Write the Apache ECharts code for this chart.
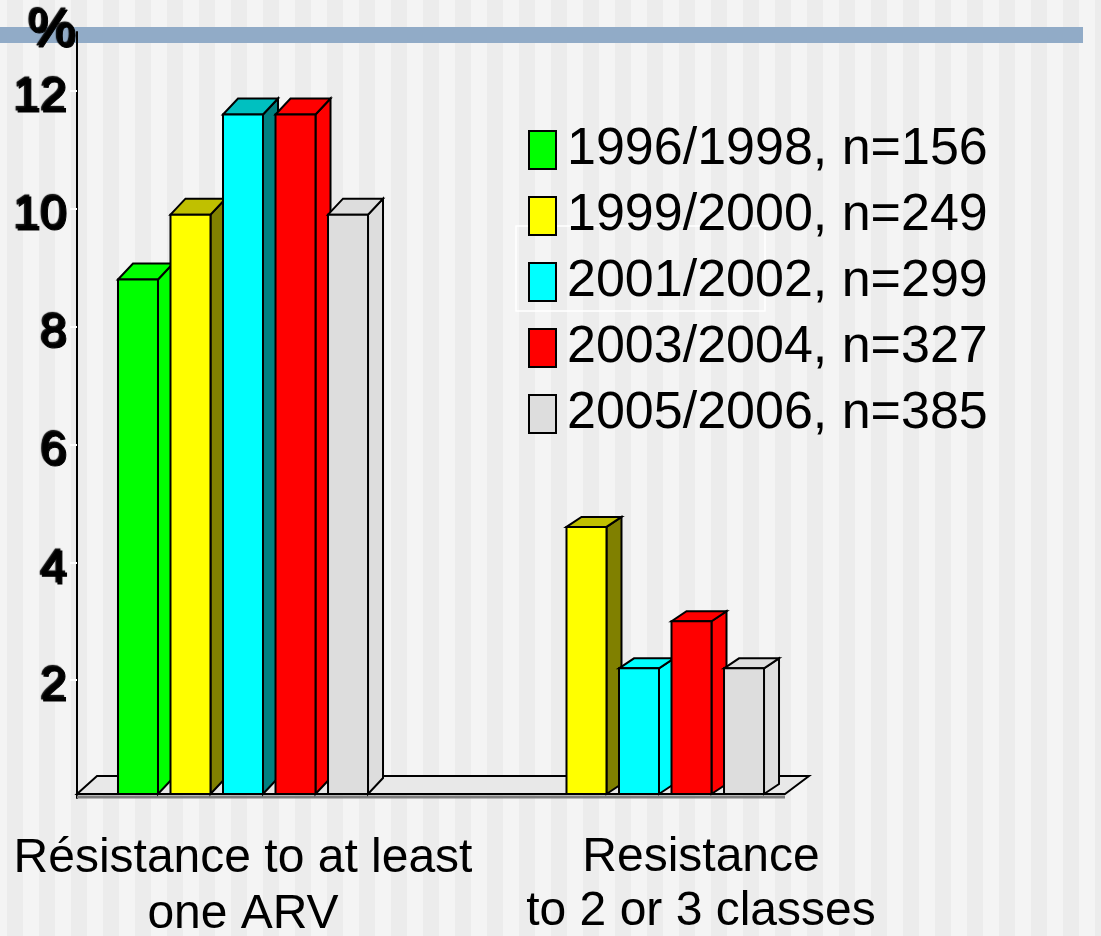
<!DOCTYPE html>
<html>
<head>
<meta charset="utf-8">
<title>ARV resistance by period</title>
<script src="https://cdn.jsdelivr.net/npm/echarts@6/dist/echarts.min.js"></script>
<style>
  html, body { margin: 0; padding: 0; }
  body {
    width: 1101px; height: 936px; overflow: hidden;
    background: repeating-linear-gradient(90deg, #f4f4f4 0 7px, #ececec 7px 23px, #f4f4f4 23px 32px);
  }
  #chart { width: 1101px; height: 936px; }
</style>
</head>
<body>
<div id="chart"></div>
<script>
// Categories on the horizontal axis
const CATEGORIES = ['Résistance to at least\none ARV', 'Resistance\nto 2 or 3 classes'];

// Legend entries, one per study period
const PERIODS = ['1996/1998, n=156', '1999/2000, n=249', '2001/2002, n=299', '2003/2004, n=327', '2005/2006, n=385'];

// Percentages per period, in category order (null = no bar)
const P_1996_1998 = [8.8, null];
const P_1999_2000 = [9.9, 4.6];
const P_2001_2002 = [11.6, 2.2];
const P_2003_2004 = [11.6, 3.0];
const P_2005_2006 = [9.9, 2.2];

// Value axis range
const Y_MIN = 0;
const Y_MAX = 13;
const Y_STEP = 2;

const SERIES_VALUES = [P_1996_1998, P_1999_2000, P_2001_2002, P_2003_2004, P_2005_2006];

// Face colours of each 3D box: front, then top and side per category
const FACES = [
  { front: '#00ff00', top: ['#00ff00', '#00ff00'], side: ['#00ff00', '#00ff00'] },
  { front: '#ffff00', top: ['#c0c000', '#c0c000'], side: ['#808000', '#808000'] },
  { front: '#00ffff', top: ['#00c0c0', '#00ffff'], side: ['#008080', '#00ffff'] },
  { front: '#ff0000', top: ['#ff0000', '#ff0000'], side: ['#ff0000', '#ff0000'] },
  { front: '#dddddd', top: ['#dddddd', '#dddddd'], side: ['#dddddd', '#dddddd'] }
];

const FONT = '"Liberation Sans", Arial, sans-serif';
const BAR_W = 0.101;      // bar width as a fraction of the category band
const STEP = 0.1326;      // distance between neighbouring bars, fraction of band
const DEPTH_X = 15;       // oblique depth of the boxes, px
const DEPTH_Y = [16, 10]; // vertical depth per category, px
const FLOOR_LIFT = 4;     // bars stand on the floor slab

// Doubled, slightly embossed look of the value-axis text
const GHOST = {
  textBorderColor: '#000',
  textBorderWidth: 1,
  textShadowColor: '#000',
  textShadowBlur: 1,
  textShadowOffsetX: -2,
  textShadowOffsetY: -2
};

function boxRenderer(k) {
  return function (params, api) {
    const v = api.value(1);
    if (v == null || isNaN(v)) return null;
    const c = api.value(0);
    const band = api.size([1, 0])[0];
    const base = api.coord([c, 0]);
    const center = base[0] + (k - 2) * band * STEP;
    const w = band * BAR_W;
    const x0 = center - w / 2;
    const x1 = center + w / 2;
    const yT = api.coord([c, v])[1];
    const yB = base[1] - FLOOR_LIFT;
    const dx = DEPTH_X;
    const dy = DEPTH_Y[c];
    const f = FACES[k];
    const stroke = { stroke: '#000', lineWidth: 2, lineJoin: 'miter' };
    return {
      type: 'group',
      children: [
        {
          type: 'polygon',
          shape: { points: [[x1, yT], [x1 + dx, yT - dy], [x1 + dx, yB - dy], [x1, yB]] },
          style: Object.assign({ fill: f.side[c] }, stroke)
        },
        {
          type: 'polygon',
          shape: { points: [[x0, yT], [x0 + dx, yT - dy], [x1 + dx, yT - dy], [x1, yT]] },
          style: Object.assign({ fill: f.top[c] }, stroke)
        },
        {
          type: 'rect',
          shape: { x: x0, y: yT, width: w, height: yB - yT },
          style: Object.assign({ fill: f.front }, stroke)
        }
      ]
    };
  };
}

// Floor slab under the bars
function floorRenderer(params, api) {
  const cs = params.coordSys;
  const yB = api.coord([0, 0])[1];
  const xl = cs.x + 32;
  const xr = cs.x + cs.width - 52;
  const yf = yB - FLOOR_LIFT;
  const yb = yB - 22;
  return {
    type: 'group',
    children: [
      {
        type: 'line',
        shape: { x1: xl, y1: yB - 1, x2: xr, y2: yB - 1 },
        style: { stroke: '#7f7f7f', lineWidth: 3 }
      },
      {
        type: 'polygon',
        shape: { points: [[xl, yf], [xr, yf], [xr + 24, yb], [xl + 20, yb]] },
        style: { fill: '#e8e8e8', stroke: '#000', lineWidth: 2 }
      }
    ]
  };
}

const series = [{
  type: 'custom',
  name: 'floor',
  silent: true,
  renderItem: floorRenderer,
  data: [[0, 0]],
  encode: { x: 0, y: 1 },
  z: 1
}];

SERIES_VALUES.forEach(function (vals, k) {
  series.push({
    type: 'custom',
    name: PERIODS[k],
    silent: true,
    renderItem: boxRenderer(k),
    itemStyle: { color: FACES[k].front, borderColor: '#000', borderWidth: 2 },
    data: CATEGORIES.map(function (_, i) { return [i, vals[i]]; }),
    encode: { x: 0, y: 1 },
    z: 2
  });
});

const chart = echarts.init(document.getElementById('chart'), null, { renderer: 'canvas' });

chart.setOption({
  backgroundColor: 'transparent',
  animation: false,
  textStyle: { fontFamily: FONT },
  graphic: [
    {
      type: 'rect',
      z: -10,
      shape: { x: 0, y: 27, width: 1083, height: 16 },
      style: { fill: '#91abc7' }
    },
    {
      type: 'rect',
      z: -5,
      shape: { x: 516, y: 226, width: 249, height: 85 },
      style: { fill: 'none', stroke: '#ffffff', lineWidth: 1.5 }
    }
  ],
  grid: { left: 45, right: 264, top: 32, bottom: 138, containLabel: false, outerBoundsMode: 'none' },
  legend: {
    orient: 'vertical',
    left: 523,
    top: 119,
    icon: 'rect',
    itemWidth: 27,
    itemHeight: 38,
    itemGap: 14,
    selectedMode: false,
    data: PERIODS,
    itemStyle: { borderColor: '#000', borderWidth: 2 },
    textStyle: { fontSize: 52, lineHeight: 52, color: '#000', fontFamily: FONT, padding: [0, 0, 0, 6] }
  },
  xAxis: {
    type: 'category',
    data: CATEGORIES,
    axisLine: { show: false },
    axisTick: { show: false },
    axisLabel: {
      interval: 0,
      margin: 33,
      color: '#000',
      fontSize: 48,
      lineHeight: 56,
      fontFamily: FONT,
      formatter: function (val, idx) {
        const lines = val.split('\n');
        const key = idx === 0 ? 'a' : 'b';
        return lines.map(function (l) { return '{' + key + '|' + l + '}'; }).join('\n');
      },
      rich: {
        a: { fontSize: 48, lineHeight: 56, color: '#000', fontFamily: FONT },
        b: { fontSize: 48, lineHeight: 54, color: '#000', fontFamily: FONT, padding: [0, 0, 0, 124] }
      }
    }
  },
  yAxis: {
    type: 'value',
    min: Y_MIN,
    max: Y_MAX,
    interval: Y_STEP,
    offset: -32,
    name: '%',
    nameLocation: 'end',
    nameGap: 0,
    nameTextStyle: Object.assign({
      fontSize: 54,
      color: '#000',
      fontFamily: FONT,
      align: 'right',
      verticalAlign: 'middle',
      padding: [10, 0, 0, 0]
    }, GHOST),
    splitLine: { show: false },
    axisLine: { show: true, lineStyle: { color: '#000', width: 2 } },
    axisTick: { show: true, length: 7, lineStyle: { color: '#ffffff', width: 2 } },
    axisLabel: Object.assign({
      showMinLabel: false,
      showMaxLabel: false,
      margin: 9,
      color: '#000',
      fontSize: 48,
      fontFamily: FONT,
      verticalAlign: 'top',
      lineHeight: 16
    }, GHOST)
  },
  series: series
});
</script>
</body>
</html>
